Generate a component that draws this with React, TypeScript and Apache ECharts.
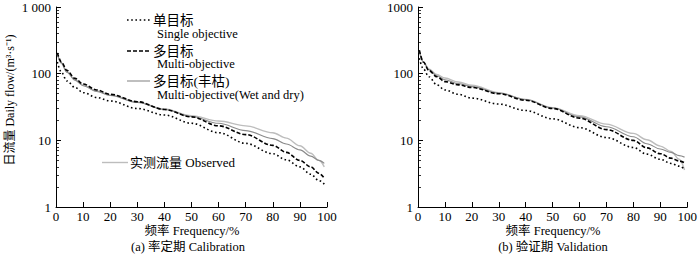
import React, { useEffect, useRef } from "react";
import * as echarts from "echarts";

const FONT = "Liberation Serif, Noto Sans CJK SC, serif";

const freq = [0.5, 2, 4, 7, 10, 15, 20, 30, 40, 50, 60, 70, 80, 85, 90, 94, 97, 99];

// Panel (a) Calibration
const calSingle = [150, 105, 78, 62, 52, 44, 39, 30, 24, 18, 13, 9, 6.3, 5.1, 4.0, 3.1, 2.5, 2.2];
const calMulti = [205, 150, 112, 85, 70, 57, 49, 38, 29, 22.5, 16.5, 12.2, 8.4, 6.6, 5.0, 4.0, 3.2, 2.7];
const calWetDry = [200, 145, 105, 80, 66, 54, 47, 37, 29, 22.8, 18, 14, 10.6, 8.8, 7.2, 5.8, 5.0, 4.5];
const calObserved = [195, 142, 106, 82, 67, 55, 48, 37.5, 29.5, 23.5, 19.5, 16.5, 13, 10.8, 8.3, 6.4, 5.0, 4.0];

// Panel (b) Validation
const valSingle = [170, 118, 90, 68, 57, 49, 43, 35, 28, 21, 15.5, 11, 7.8, 6.2, 5.2, 4.5, 4.1, 3.7];
const valMulti = [225, 150, 112, 90, 76, 68, 62, 50, 40, 30, 21.5, 14.5, 10, 7.7, 6.3, 5.4, 4.9, 4.6];
const valWetDry = [220, 150, 115, 93, 81, 71, 64, 51, 41, 30.5, 22.5, 16, 11.3, 8.9, 7.4, 6.6, 5.9, 5.6];
const valObserved = [215, 150, 118, 97, 86, 75, 67, 52, 41, 31, 23.5, 17.5, 12.7, 10.2, 8.2, 6.8, 5.2, 3.6];

const minorVals = [2, 3, 4, 5, 6, 7, 8, 9, 20, 30, 40, 50, 60, 70, 80, 90, 200, 300, 400, 500, 600, 700, 800, 900];

const pair = (ys: number[]) => freq.map((f, i) => [f, ys[i]]);

const styles = {
  single: { color: "#000", width: 1.6, type: [1.6, 2.6] as any },
  multi: { color: "#000", width: 1.6, type: [4, 2] as any },
  wetdry: { color: "#8a8a8a", width: 1.1, type: "solid" as any },
  observed: { color: "#bdbdbd", width: 1.4, type: "solid" as any },
};

function mkSeries(name: string, data: number[], st: any, idx: number) {
  return {
    type: "line",
    name,
    xAxisIndex: idx,
    yAxisIndex: idx,
    data: pair(data),
    showSymbol: false,
    smooth: 0.35,
    smoothMonotone: "x",
    lineStyle: { color: st.color, width: st.width, type: st.type },
    z: name === "observed" ? 1 : 2,
  };
}

export default function App() {
  const ref = useRef<HTMLDivElement>(null);
  useEffect(() => {
    if (!ref.current) return;
    const chart = echarts.init(ref.current, null, { renderer: "svg" });
    const grids = [
      { left: 56, top: 7, width: 271, height: 200 },
      { left: 418, top: 7, width: 272, height: 200 },
    ];
    const xAxis = grids.map((_, i) => ({
      type: "value",
      gridIndex: i,
      min: 0,
      max: 100,
      interval: 10,
      axisLine: { lineStyle: { color: "#000", width: 1 } },
      axisTick: { inside: true, length: 5, lineStyle: { color: "#000" } },
      axisLabel: { color: "#000", fontFamily: FONT, fontSize: 13, margin: 3 },
      splitLine: { show: false },
    }));
    const mainY = (i: number) => ({
      type: "log",
      gridIndex: i,
      logBase: 10,
      min: 1,
      max: 1000,
      position: "left",
      axisLine: { show: true, lineStyle: { color: "#000", width: 1 } },
      axisTick: { show: true, inside: true, length: 5, lineStyle: { color: "#000" } },
      axisLabel: {
        color: "#000",
        fontFamily: FONT,
        fontSize: 13,
        margin: 5,
        formatter: (v: number) => (i === 0 && Math.round(v) === 1000 ? "1 000" : String(Math.round(v))),
      },
      splitLine: { show: false },
    });
    const minorY = (i: number) => ({
      type: "log",
      gridIndex: i,
      logBase: 10,
      min: 1,
      max: 1000,
      position: "left",
      axisLine: { show: false },
      axisLabel: { show: false },
      axisTick: {
        show: true,
        inside: true,
        length: 3,
        customValues: minorVals,
        lineStyle: { color: "#000", width: 0.8 },
      },
      splitLine: { show: false },
    });

    const txt = (x: number, y: number, text: string, size = 13, align = "left", extra: any = {}) => ({
      type: "text",
      x,
      y,
      silent: true,
      style: {
        text,
        fill: "#000",
        fontFamily: FONT,
        fontSize: size,
        align,
        verticalAlign: "middle",
      },
      ...extra,
    });
    const lg = (x1: number, x2: number, y: number, st: any) => ({
      type: "line",
      silent: true,
      shape: { x1, y1: y, x2, y2: y },
      style: {
        stroke: st.color,
        lineWidth: st.width,
        lineDash: Array.isArray(st.type) ? st.type : null,
      },
    });

    const graphic = [
      lg(127, 150, 20, styles.single),
      txt(153, 20, "单目标", 13.5),
      txt(157, 33.5, "Single objective", 12.5),
      lg(127, 150, 51, styles.multi),
      txt(153, 51, "多目标", 13.5),
      txt(157, 64, "Multi-objective", 12.5),
      lg(127, 150, 81, styles.wetdry),
      txt(153, 81, "多目标(丰枯)", 13.5),
      txt(157, 95, "Multi-objective(Wet and dry)", 12.5),
      lg(102, 128, 162.5, styles.observed),
      txt(130, 162.5, "实测流量 Observed", 13),
      txt(10, 100, "日流量 Daily flow/(m³·s⁻¹)", 12, "center", { rotation: Math.PI / 2 }),
      txt(192, 231, "频率 Frequency/%", 12.5, "center"),
      txt(188, 247, "(a) 率定期 Calibration", 12.5, "center"),
      txt(553, 231, "频率 Frequency/%", 12.5, "center"),
      txt(553, 247, "(b) 验证期 Validation", 12.5, "center"),
    ];

    chart.setOption({
      animation: false,
      backgroundColor: "#fff",
      grid: grids,
      xAxis,
      yAxis: [mainY(0), mainY(1), minorY(0), minorY(1)],
      series: [
        mkSeries("observed", calObserved, styles.observed, 0),
        mkSeries("wetdry", calWetDry, styles.wetdry, 0),
        mkSeries("multi", calMulti, styles.multi, 0),
        mkSeries("single", calSingle, styles.single, 0),
        mkSeries("observed", valObserved, styles.observed, 1),
        mkSeries("wetdry", valWetDry, styles.wetdry, 1),
        mkSeries("multi", valMulti, styles.multi, 1),
        mkSeries("single", valSingle, styles.single, 1),
      ],
      graphic,
    });
    return () => chart.dispose();
  }, []);
  return (
    <div
      ref={ref}
      style={{ position: "fixed", left: 0, top: 0, width: 700, height: 258, background: "#fff" }}
    />
  );
}
